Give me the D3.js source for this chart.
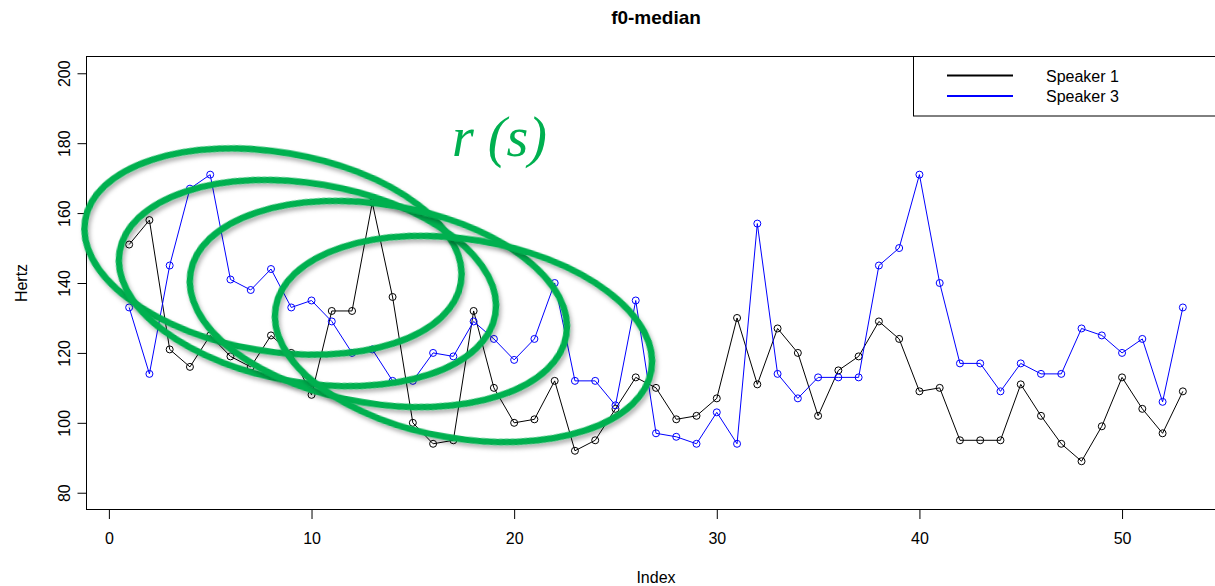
<!DOCTYPE html>
<html>
<head>
<meta charset="utf-8">
<script src="https://cdn.jsdelivr.net/npm/d3@7"></script>
<style>
  body { margin: 0; background: #ffffff; }
  svg { display: block; font-family: "Liberation Sans", Arial, sans-serif; }
</style>
</head>
<body>
<script>
// values (f0 median per index)
const speaker1 = [151, 158, 121, 116, 125, 119, 116, 125, 120, 108,
                  132, 132, 163, 136, 100, 94, 95, 132, 110, 100,
                  101, 112, 92, 95, 104, 113, 110, 101, 102, 107,
                  130, 111, 127, 120, 102, 115, 119, 129, 124, 109,
                  110, 95, 95, 95, 111, 102, 94, 89, 99, 113,
                  104, 97, 109]
const speaker3 = [133, 114, 145, 167, 171, 141, 138, 144, 133, 135,
                  129, 120, 121, 112, 112, 120, 119, 129, 124, 118,
                  124, 140, 112, 112, 105, 135, 97, 96, 94, 103,
                  94, 157, 114, 107, 113, 113, 113, 145, 150, 171,
                  140, 117, 117, 109, 117, 114, 114, 127, 125, 120,
                  124, 106, 133]
const seriesNames = ["Speaker 1", "Speaker 3"]
const seriesColors = ["#000000", "#0000ff"]
const xTicks = [0, 10, 20, 30, 40, 50]
const yTicks = [80, 100, 120, 140, 160, 180, 200]

// green ellipses drawn over the plot (centre in index / Hertz units)
const ellipseIndex = [8.1, 9.8, 13.3, 17.5]
const ellipseHertz = [149, 140, 134, 124]
const ellipseRadiusIndex = 9.4
const ellipseRadiusHertz = 28.5
const ellipseTilt = 9.5

// plot region, R style (right side runs past the window)
const margins = {
    left: 87,
    right: 1225,
    top: 56.5,
    bottom: 509.5
}

const width = 1215
const height = 586

var svg = d3.select("body")
    .append("svg")
    .attr("width", width)
    .attr("height", height)

// R pads the data range by 4% on each side
var x = d3.scaleLinear()
    .domain([1 - 0.04 * 52, 53 + 0.04 * 52])
    .range([margins.left, margins.right])
var y = d3.scaleLinear()
    .domain([80 - 0.04 * 120, 200 + 0.04 * 120])
    .range([margins.bottom, margins.top])

// x axis
var xAxis = svg.append("g")
    .attr("transform", "translate(0," + (margins.bottom + 0.5) + ")")
    .call(d3.axisBottom(x).tickValues(xTicks).tickSize(9).tickPadding(14))
xAxis.select(".domain").remove()
xAxis.selectAll("text").style("font-size", "16px").attr("fill", "#000")

// y axis, labels turned like R does
var yAxis = svg.append("g")
    .attr("transform", "translate(" + (margins.left - 0.5) + ",0)")
    .call(d3.axisLeft(y).tickValues(yTicks).tickSize(9))
yAxis.select(".domain").remove()
yAxis.selectAll("text")
    .attr("x", 0)
    .attr("y", 0)
    .attr("dy", null)
    .attr("text-anchor", "middle")
    .attr("dominant-baseline", "central")
    .attr("transform", "translate(-22,0) rotate(-90)")
    .style("font-size", "16px")
    .attr("fill", "#000")

// box
svg.append("rect")
    .attr("x", margins.left - 0.5)
    .attr("y", margins.top)
    .attr("width", margins.right - margins.left)
    .attr("height", margins.bottom - margins.top)
    .attr("fill", "none")
    .attr("stroke", "#000")
    .attr("stroke-width", 1)

// titles
svg.append("text")
    .attr("x", (margins.left + margins.right) / 2)
    .attr("y", 24)
    .attr("text-anchor", "middle")
    .style("font-size", "19px")
    .style("font-weight", "bold")
    .text("f0-median")
svg.append("text")
    .attr("x", (margins.left + margins.right) / 2)
    .attr("y", 583)
    .attr("text-anchor", "middle")
    .style("font-size", "16px")
    .text("Index")
svg.append("text")
    .attr("transform", "translate(27," + ((margins.top + margins.bottom) / 2) + ") rotate(-90)")
    .attr("text-anchor", "middle")
    .style("font-size", "16px")
    .text("Hertz")

// lines + open circles
var line = d3.line()
    .x(function (d, i) { return x(i + 1) })
    .y(function (d) { return y(d) })

var allSeries = [speaker1, speaker3]
allSeries.forEach(function (values, s) {
    svg.append("path")
        .datum(values)
        .attr("d", line)
        .attr("fill", "none")
        .attr("stroke", seriesColors[s])
        .attr("stroke-width", 1)
    svg.selectAll(".pt" + s)
        .data(values)
        .enter()
        .append("circle")
        .attr("class", "pt" + s)
        .attr("cx", function (d, i) { return x(i + 1) })
        .attr("cy", function (d) { return y(d) })
        .attr("r", 3.5)
        .attr("fill", "none")
        .attr("stroke", seriesColors[s])
        .attr("stroke-width", 1)
})

// legend (box runs off the right edge)
svg.append("rect")
    .attr("x", 913.5)
    .attr("y", margins.top)
    .attr("width", 400)
    .attr("height", 59.5)
    .attr("fill", "#fff")
    .attr("stroke", "#000")
    .attr("stroke-width", 1)
seriesNames.forEach(function (name, s) {
    svg.append("line")
        .attr("x1", 947).attr("x2", 1013)
        .attr("y1", 75.5 + s * 20.5).attr("y2", 75.5 + s * 20.5)
        .attr("stroke", seriesColors[s])
        .attr("stroke-width", 2)
    svg.append("text")
        .attr("x", 1046)
        .attr("y", 76 + s * 20.5)
        .attr("dominant-baseline", "central")
        .style("font-size", "16px")
        .text(name)
})

// drop shadow for the green marks
var defs = svg.append("defs")
defs.append("filter")
    .attr("id", "shadow")
    .attr("x", "-10%").attr("y", "-10%")
    .attr("width", "130%").attr("height", "130%")
    .append("feDropShadow")
    .attr("dx", 2.5).attr("dy", 3)
    .attr("stdDeviation", 2)
    .attr("flood-color", "#000")
    .attr("flood-opacity", 0.3)

var pxPerIndex = x(1) - x(0)
var pxPerHertz = y(0) - y(1)
svg.selectAll(".ring")
    .data(ellipseIndex)
    .enter()
    .append("ellipse")
    .attr("class", "ring")
    .attr("transform", function (d, i) {
        return "translate(" + x(d) + "," + y(ellipseHertz[i]) + ") rotate(" + ellipseTilt + ")"
    })
    .attr("rx", ellipseRadiusIndex * pxPerIndex)
    .attr("ry", ellipseRadiusHertz * pxPerHertz)
    .attr("fill", "none")
    .attr("stroke", "#00b050")
    .attr("stroke-width", 6.5)
    .attr("filter", "url(#shadow)")

svg.append("text")
    .attr("x", 452)
    .attr("y", 156)
    .style("font-family", "'Liberation Serif', 'Times New Roman', serif")
    .style("font-style", "italic")
    .style("font-size", "56px")
    .attr("fill", "#00b050")
    .attr("xml:space", "preserve")
    .text("r (s)")
</script>
</body>
</html>
